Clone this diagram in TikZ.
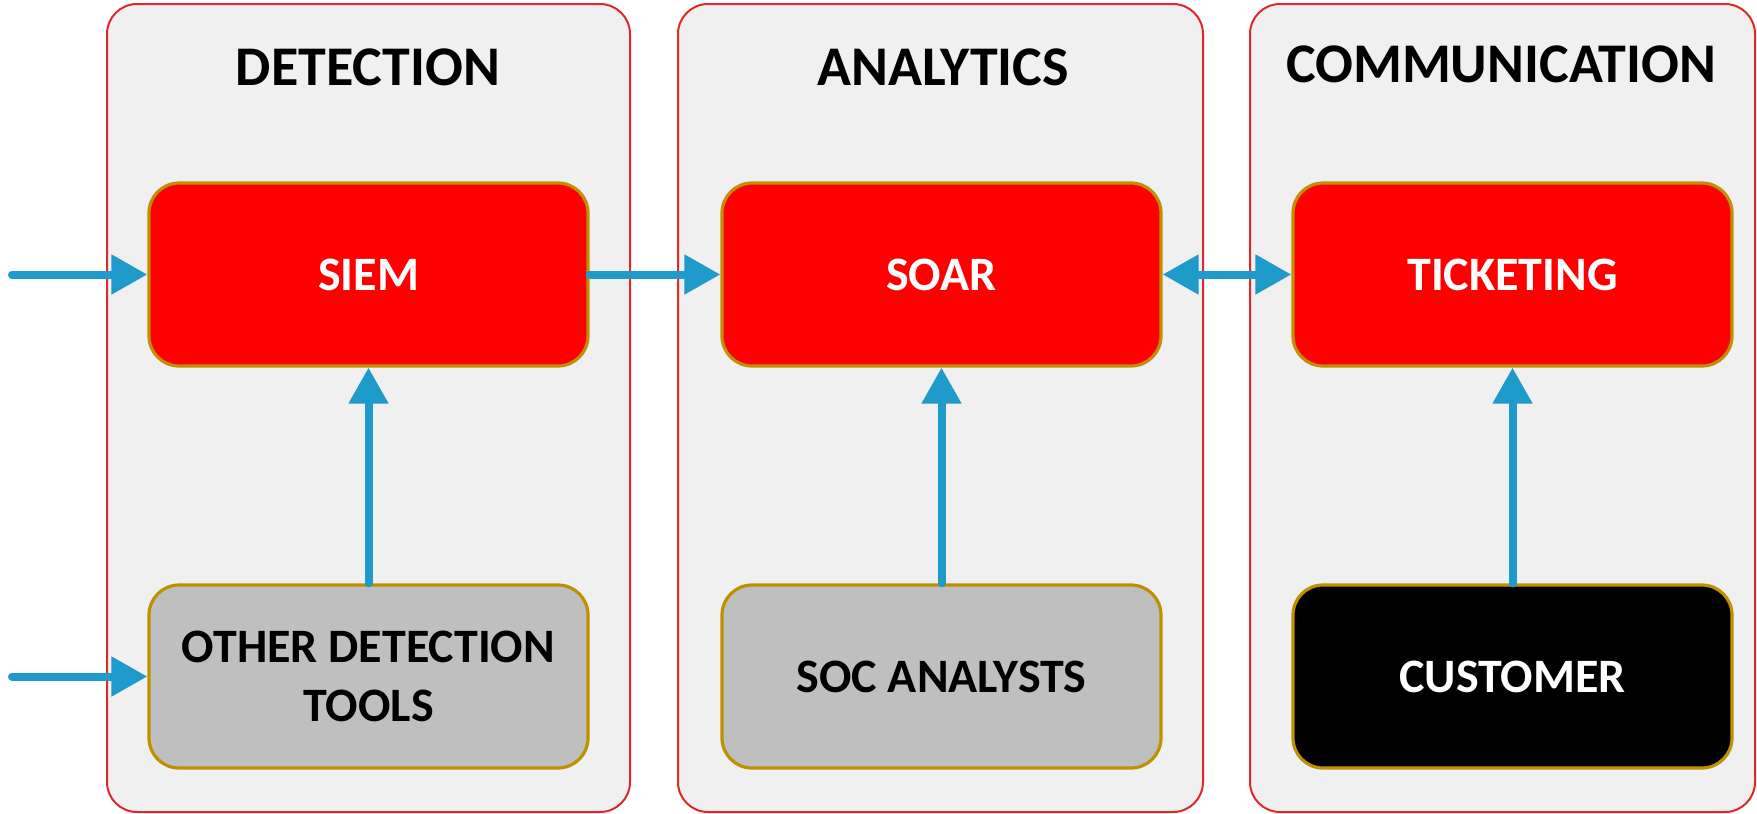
\documentclass[tikz,border=0pt]{standalone}
\usepackage{fontspec}
\setmainfont{Carlito}
\usetikzlibrary{arrows.meta}
\definecolor{panelfill}{HTML}{F0F0F0}
\definecolor{panelline}{HTML}{E02828}
\definecolor{boxred}{HTML}{FF0000}
\definecolor{boxgray}{HTML}{BFBFBF}
\definecolor{gold}{HTML}{BF9000}
\definecolor{flow}{HTML}{1F9BCB}
\begin{document}
\begin{tikzpicture}[x=0.5pt,y=-0.5pt,
  panel/.style={draw=panelline, fill=panelfill, line width=1pt, rounded corners=15pt,
    minimum height=404pt, inner sep=0pt},
  title/.style={font=\fontsize{28}{32}\selectfont\bfseries, text=black},
  box/.style={draw=gold, line width=1.6pt, rounded corners=15pt, minimum width=219.5pt,
    minimum height=91.5pt, inner sep=0pt, align=center,
    font=\fontsize{24}{29.5}\selectfont\bfseries},
  redbox/.style={box, fill=boxred, text=white},
  graybox/.style={box, fill=boxgray, text=black},
  blackbox/.style={box, fill=black, text=white},
  flowline/.style={draw=flow, line width=4pt, line cap=round,
    -{Triangle[length=18pt,width=19pt]}},
  flowboth/.style={draw=flow, line width=4pt,
    {Triangle[length=18pt,width=19pt]}-{Triangle[length=18pt,width=19pt]}}
]
\useasboundingbox (0,0) rectangle (1757,814);
% panels
\node[panel, minimum width=261.5pt] (pdet) at (368.5,408) {};
\node[panel, minimum width=262.5pt] (pana) at (940.5,408) {};
\node[panel, minimum width=252.5pt] (pcom) at (1502.5,408) {};
% titles
\node[title] (tdet) at (368,67) {DETECTION};
\node[title] (tana) at (943,67) {ANALYTICS};
\node[title] (tcom) at (1501,64) {COMMUNICATION};
% boxes
\node[redbox] (siem) at (368.5,274.5) {SIEM};
\node[redbox] (soar) at (941.5,274.5) {SOAR};
\node[redbox] (tick) at (1512.5,274.5) {TICKETING};
\node[graybox] (other) at (368.5,676.5) {OTHER DETECTION\\TOOLS};
\node[graybox] (soc) at (941.5,676.5) {SOC ANALYSTS};
\node[blackbox] (cust) at (1512.5,676.5) {CUSTOMER};
% free ends
\coordinate (in1) at (12,274.5);
\coordinate (in2) at (12,676.5);
% connectors
\draw[flowline] (in1) -- (siem.west);
\draw[flowline] (in2) -- (other.west);
\draw[flowline] (other.north) -- (siem.south);
\draw[flowline] (soc.north) -- (soar.south);
\draw[flowline] (cust.north) -- (tick.south);
\draw[flowline] (siem.east) -- (soar.west);
\draw[flowboth] (soar.east) -- (tick.west);
\end{tikzpicture}
\end{document}
